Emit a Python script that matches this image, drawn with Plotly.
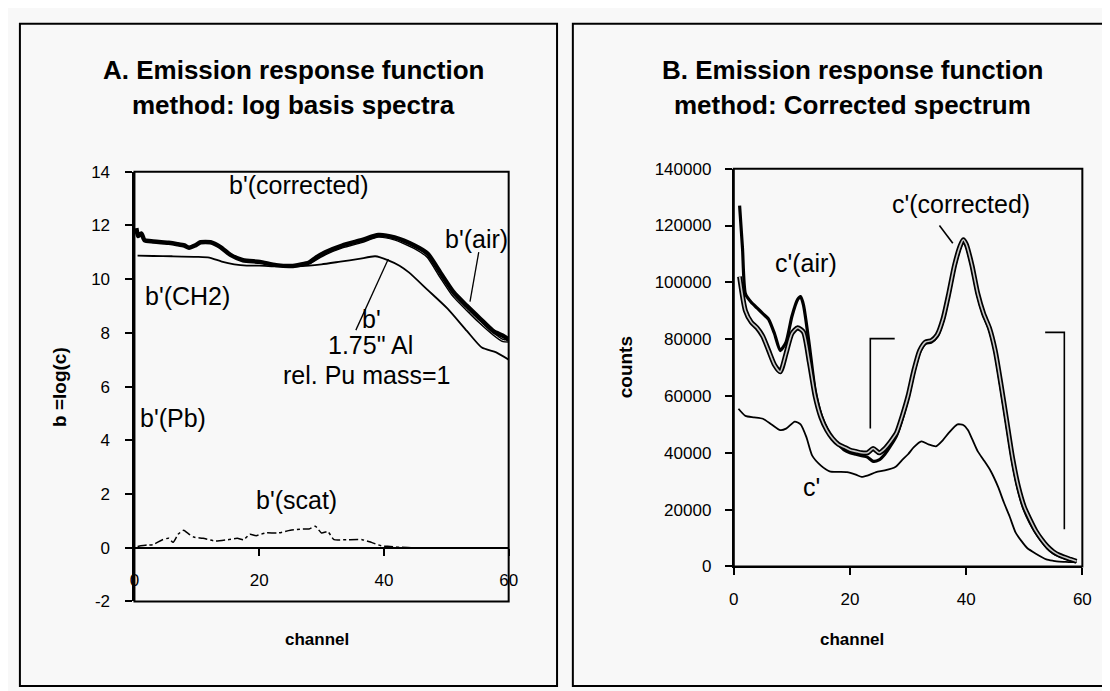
import plotly.graph_objects as go

# ---------------- Panel A data (log basis spectra) ----------------
a_corr_ch = [0.3, 0.6, 1.1, 1.6, 3, 4.3, 5.5, 6.9, 8, 8.75, 9.7, 10.6, 12.2, 13.8, 15.4, 17.4, 20.1, 22.7, 25.4, 28,
             29.1, 30.6, 33.3, 36.4, 39.1, 41.7, 44.9, 47, 49.1, 51.2, 53.3, 55.4, 57.6, 59, 60]
a_corr_b = [11.9, 11.6, 11.7, 11.45, 11.4, 11.37, 11.35, 11.3, 11.25, 11.17, 11.25, 11.37, 11.37, 11.19, 10.9, 10.7,
            10.64, 10.52, 10.49, 10.62, 10.8, 11.0, 11.25, 11.45, 11.64, 11.55, 11.25, 10.95, 10.22, 9.5, 9.0, 8.53,
            8.05, 7.9, 7.75]

a_air_ch = [28, 30.6, 33.3, 36.4, 39.1, 41.7, 44.9, 47, 49.1, 51.2, 53.3, 55.4, 57.6, 59, 60]
a_air_b = [10.6, 10.95, 11.2, 11.4, 11.6, 11.5, 11.18, 10.85, 10.1, 9.38, 8.88, 8.4, 7.95, 7.72, 7.7]

a_tot_ch = [0.5, 3, 6, 10, 12, 14, 16, 18, 20, 23, 26, 28, 30, 33, 36, 38.6, 40.7, 42.5, 44, 47, 50.2, 53.3,
            55.7, 58, 60]
a_tot_b = [10.87, 10.86, 10.85, 10.83, 10.8, 10.65, 10.55, 10.5, 10.5, 10.47, 10.47, 10.5, 10.55, 10.65, 10.75,
           10.85, 10.7, 10.5, 10.25, 9.6, 8.9, 8.07, 7.45, 7.27, 7.0]

a_scat_ch = [0.5, 2, 3, 4.5, 5.5, 6.2, 7, 7.9, 8.5, 9.5, 11, 13, 15, 16.5, 17.5, 18.5, 19.5, 21, 23, 25, 27, 28,
             29, 30, 31, 32, 34, 36.5, 38, 39.6, 41, 42.5, 45, 50, 55, 60]
a_scat_b = [0.05, 0.1, 0.12, 0.3, 0.35, 0.2, 0.5, 0.65, 0.55, 0.4, 0.35, 0.25, 0.3, 0.35, 0.3, 0.5, 0.45, 0.55,
            0.55, 0.65, 0.7, 0.7, 0.8, 0.55, 0.6, 0.3, 0.3, 0.3, 0.2, 0.07, 0.05, 0.02, 0, 0, 0, 0]

a_yticks = [-2, 0, 2, 4, 6, 8, 10, 12, 14]
a_yticktext = ["-2", "0", "2", "4", "6", "8", "10", "12", "14"]
a_xticks = [0, 20, 40, 60]

# ---------------- Panel B data (counts) ----------------
b_corr_ch = list(range(1, 40)) + [39.5] + list(range(40, 60))
b_corr_c = [102000, 90000, 86000, 84000, 81000, 76000, 71000, 68500, 75000, 82000, 84000, 82500, 72000, 60000,
            52500, 48000, 45000, 43000, 42000, 41000, 40500, 40000, 40000, 41500, 40000, 41500, 44000, 47000,
            53000, 60000, 69000, 76000, 79000, 79500, 81500, 87000, 96000, 106000, 113000, 115000, 113500,
            106000, 96000, 89000, 84000, 76000, 64000, 51000, 38000, 28000, 21000, 16500, 12500, 9500, 7000,
            5200, 4000, 3200, 2500, 1800]

b_air_ch = [1, 1.5, 2, 3, 4, 5, 6, 7, 8, 9, 10, 11, 11.5, 12, 13] + list(range(14, 40)) + [39.5] + list(range(40, 60))
b_air_c = [127000, 112000, 96000, 93000, 91000, 89000, 87000, 82000, 76000, 79000, 88000, 94000, 95000, 92000,
           78000, 62000, 53500, 48500, 45000, 43000, 41000, 40000, 39500, 39000, 38500, 37000, 37500, 39500,
           42500, 46000, 52000, 59500, 68500, 75500, 78500, 79000, 81000, 86500, 95500, 105500, 112500, 114500,
           113000, 105500, 95500, 88500, 83500, 75500, 63000, 50000, 37000, 27000, 20000, 15500, 12000, 9000,
           6500, 4800, 3800, 3000, 2300, 1700]

b_c_ch = [0.8, 2, 3.5, 5, 6.5, 8, 9, 10.5, 11.5, 12.5, 13.5, 15, 16.5, 18, 19.5, 21, 22, 23, 24.5, 26, 27.8, 29,
          30, 31, 32.3, 33.5, 34.8, 36, 37, 38.5, 39.5, 40.3, 41, 42, 43, 44.2, 45.5, 46.5, 47.5, 48.5, 49.5,
          50.5, 52, 53.8, 55, 56, 57, 58, 59]
b_c_c = [55500, 53000, 52500, 52000, 50000, 48000, 48500, 51000, 50000, 45500, 39000, 35500, 33500, 33300, 33200,
         32300, 31500, 32000, 33200, 33800, 35000, 37500, 39500, 42000, 44000, 43000, 42300, 44500, 47000, 50000,
         49800, 48000, 45000, 40500, 37500, 33700, 28000, 22500, 17500, 12000, 9000, 6500, 4500, 2500, 2000,
         1700, 1600, 1500, 1500]

b_yticks = [0, 20000, 40000, 60000, 80000, 100000, 120000, 140000]
b_xticks = [0, 20, 40, 60]

# bracket marks and leader lines (data coordinates)
b_bracket1_ch = [23.5, 23.5, 27.7]
b_bracket1_c = [48600, 80200, 80200]
b_bracket2_ch = [53.6, 56.9, 56.9]
b_bracket2_c = [82400, 82400, 13100]
b_lead_ch = [35.4, 37.7]
b_lead_c = [120000, 113800]
a_lead_tot_ch = [35.5, 40.7]
a_lead_tot_b = [8.1, 10.75]
a_lead_air_ch = [55.2, 53.8]
a_lead_air_b = [11.0, 9.16]

# ---------------- figure ----------------
W, H = 1110, 691
FONT = "Liberation Sans, Arial, Helvetica, sans-serif"
BG = "#f8f8f8"

def px(x):
    return x / W

def py(y):
    return (H - y) / H

ax_dom = [px(123), px(502)]
ay_dom = [py(601), py(159)]
bx_dom = [px(730), px(1083)]
by_dom = [py(565), py(156)]

fig = go.Figure()

def line(x, y, xa, ya, color="black", width=1.5, dash="solid"):
    fig.add_trace(go.Scatter(x=x, y=y, xaxis=xa, yaxis=ya, mode="lines",
                             line=dict(color=color, width=width, dash=dash, shape="spline", smoothing=0.6),
                             hoverinfo="skip", showlegend=False))

# Panel A curves
line(a_scat_ch, a_scat_b, "x", "y", width=1.5, dash="dashdot")
line(a_tot_ch, a_tot_b, "x", "y", width=1.8)
line(a_air_ch, a_air_b, "x", "y", width=3.5)
line(a_air_ch, a_air_b, "x", "y", color="#d0d0d0", width=1.0)
line(a_corr_ch, a_corr_b, "x", "y", width=4.5)
line(a_lead_tot_ch, a_lead_tot_b, "x", "y", width=1.3)
line(a_lead_air_ch, a_lead_air_b, "x", "y", width=1.3)

# Panel B curves
line(b_c_ch, b_c_c, "x2", "y2", width=1.8)
line(b_air_ch, b_air_c, "x2", "y2", width=3.2)
line(b_corr_ch, b_corr_c, "x2", "y2", width=5)
line(b_corr_ch, b_corr_c, "x2", "y2", color="#c8c8c8", width=1.6)
for bx, bc in [(b_bracket1_ch, b_bracket1_c), (b_bracket2_ch, b_bracket2_c), (b_lead_ch, b_lead_c)]:
    fig.add_trace(go.Scatter(x=bx, y=bc, xaxis="x2", yaxis="y2", mode="lines",
                             line=dict(color="black", width=1.6), hoverinfo="skip", showlegend=False))

axis_common = dict(showgrid=False, zeroline=False, showline=True, linecolor="black", linewidth=2,
                   ticks="outside", ticklen=7, tickwidth=1.5, tickcolor="black",
                   tickfont=dict(family=FONT, size=17, color="black"))

x0_pos = ay_dom[0] + (0 - (-2)) / 16 * (ay_dom[1] - ay_dom[0])

fig.update_layout(
    width=W, height=H, autosize=False,
    margin=dict(l=0, r=0, t=0, b=0),
    paper_bgcolor=BG, plot_bgcolor=BG,
    xaxis=dict(domain=ax_dom, range=[0, 60], tickvals=a_xticks, anchor="free", position=x0_pos,
               ticklabelstandoff=10, **axis_common),
    yaxis=dict(domain=ay_dom, range=[-2, 14], tickvals=a_yticks, ticktext=a_yticktext, anchor="x",
               ticklabelstandoff=12, **axis_common),
    xaxis2=dict(domain=bx_dom, range=[0, 60], tickvals=b_xticks, anchor="y2", ticklabelstandoff=9,
                **axis_common),
    yaxis2=dict(domain=by_dom, range=[0, 140000], tickvals=b_yticks, tickformat="d", anchor="x2",
                ticklabelstandoff=10, **axis_common),
)

shapes = [
    dict(type="rect", xref="x domain", yref="y domain", x0=0, x1=1, y0=0, y1=1,
         line=dict(color="black", width=2)),
    dict(type="rect", xref="x2 domain", yref="y2 domain", x0=0, x1=1, y0=0, y1=1,
         line=dict(color="black", width=2)),
    dict(type="rect", xref="paper", yref="paper", x0=px(7), x1=px(551), y0=py(688), y1=py(7),
         line=dict(color="black", width=2)),
    dict(type="rect", xref="paper", yref="paper", x0=px(567), x1=px(1125), y0=py(688), y1=py(7),
         line=dict(color="black", width=2)),
]
fig.update_layout(shapes=shapes)

def note(text, x, y, xref, yref, size=25, bold=False, angle=0):
    if bold:
        text = "<b>" + text + "</b>"
    fig.add_annotation(text=text, x=x, y=y, xref=xref, yref=yref, showarrow=False,
                       xanchor="center", yanchor="middle", textangle=angle,
                       font=dict(family=FONT, size=size, color="black"))

# titles
note("A. Emission response function", px(284), py(55), "paper", "paper", size=26, bold=True)
note("method: log basis spectra", px(284), py(90), "paper", "paper", size=26, bold=True)
note("B. Emission response function", px(850), py(55), "paper", "paper", size=26, bold=True)
note("method: Corrected spectrum", px(850), py(90), "paper", "paper", size=26, bold=True)

# axis titles
note("channel", px(308), py(640), "paper", "paper", size=17, bold=True)
note("channel", px(850), py(640), "paper", "paper", size=17, bold=True)
note("b =log(c)", px(47), py(380), "paper", "paper", size=19, bold=True, angle=-90)
note("counts", px(620), py(360), "paper", "paper", size=19, bold=True, angle=-90)

# curve labels panel A
note("b'(corrected)", 26.4, 13.5, "x", "y")
note("b'(air)", 54.9, 11.5, "x", "y")
note("b'(CH2)", 8.5, 9.37, "x", "y")
note("b'", 38.0, 8.53, "x", "y")
note("1.75\" Al", 37.8, 7.56, "x", "y")
note("rel. Pu mass=1", 37.2, 6.44, "x", "y")
note("b'(Pb)", 6.2, 4.84, "x", "y")
note("b'(scat)", 26.0, 1.76, "x", "y")

# curve labels panel B
note("c'(air)", 12.4, 106800, "x2", "y2")
note("c'(corrected)", 39.1, 127700, "x2", "y2")
note("c'", 13.3, 28000, "x2", "y2")

fig.write_html("out.html")
